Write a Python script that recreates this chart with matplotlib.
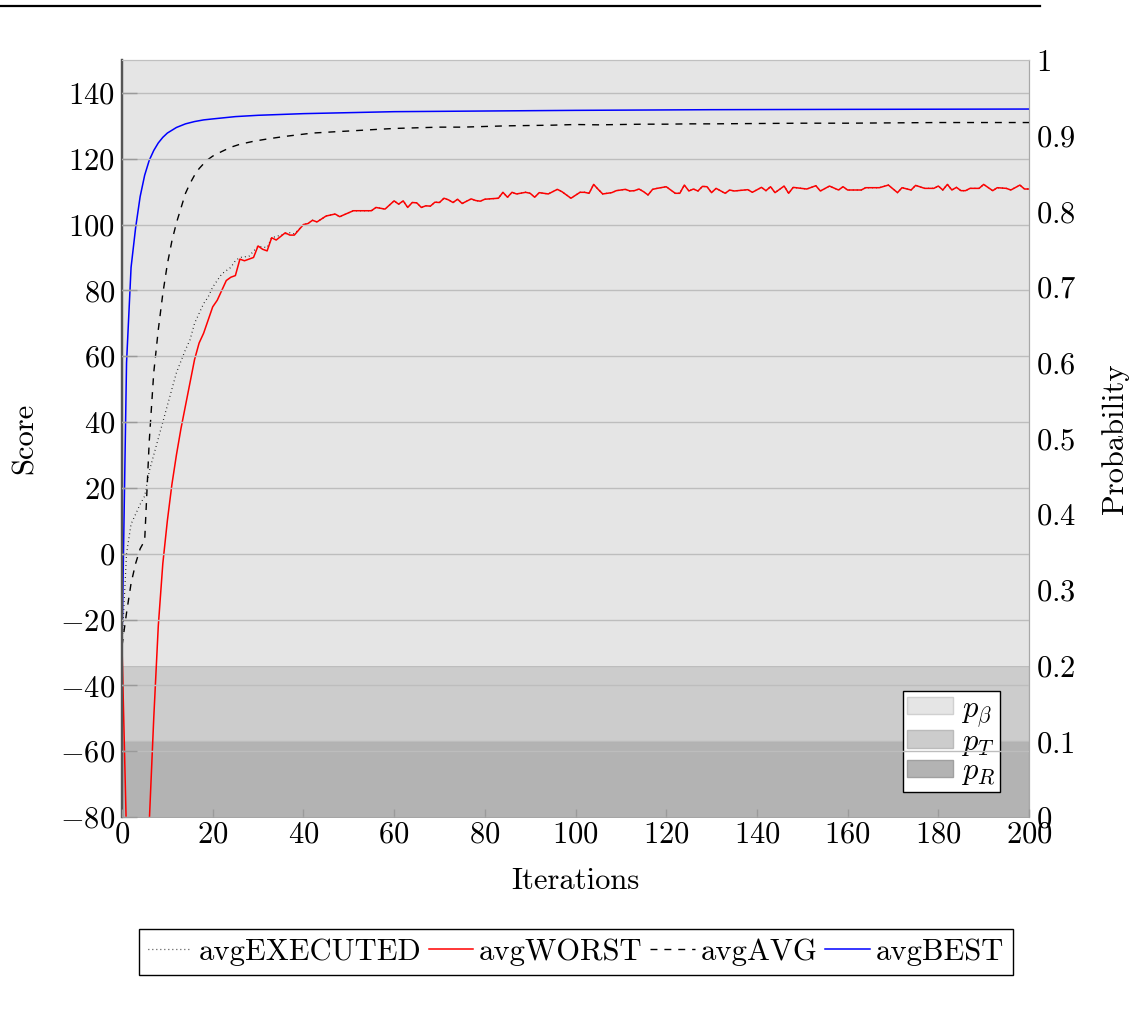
import matplotlib
matplotlib.use("Agg")
import matplotlib.pyplot as plt
from matplotlib.lines import Line2D
from matplotlib.patches import Patch
from matplotlib.ticker import FixedLocator, FuncFormatter

plt.rcParams["font.family"] = "serif"
plt.rcParams["font.serif"] = ["cmr10", "DejaVu Serif"]
plt.rcParams["mathtext.fontset"] = "cm"
plt.rcParams["axes.formatter.use_mathtext"] = True
plt.rcParams["axes.unicode_minus"] = True

# ---- data -------------------------------------------------------------
worst_it = [0, 1, 2, 3, 4, 5, 6, 7, 8, 9, 10, 11, 12, 13, 14, 15, 16, 17, 18, 19,
            20, 21, 22, 23, 24, 25, 26, 27, 29, 30, 31, 32, 33, 34, 36, 37, 38, 40,
            41, 42, 43, 45, 47, 48, 51, 53, 55, 56, 58, 60, 61, 62, 63, 64, 65, 66,
            67, 68, 69, 70, 71, 72, 73, 74, 75, 76, 77, 78, 79, 80, 83, 84, 85, 86,
            87, 89, 90, 91, 92, 94, 96, 97, 99, 101, 102, 103, 104, 105, 106, 108,
            109, 111, 112, 113, 114, 115, 116, 117, 118, 120, 121, 122, 123, 124,
            125, 126, 127, 128, 129, 130, 131, 133, 134, 135, 138, 139, 141, 142,
            143, 144, 146, 147, 148, 151, 153, 154, 156, 158, 159, 160, 163, 164,
            167, 169, 171, 172, 174, 175, 177, 179, 180, 181, 182, 183, 184, 185,
            186, 187, 189, 190, 192, 193, 195, 196, 198, 199, 200]
worst_val = [-28, -86, -130, -150, -140, -115, -82, -50, -22, -3, 10, 21, 30, 38, 45,
             52, 59, 64, 67, 71, 75, 77, 80, 83, 84, 84.5, 89.5, 89, 90, 93.5, 92.5,
             92, 96, 95.3, 97.5, 96.8, 96.8, 100, 100.3, 101.3, 100.8, 102.6, 103.2,
             102.4, 104.2, 104.2, 104.2, 105.2, 104.7, 107.2, 106.2, 107.2, 105.2,
             106.7, 106.6, 105.2, 105.7, 105.6, 106.8, 106.7, 108, 107.5, 106.7,
             107.7, 106.4, 107.1, 107.8, 107.3, 107.1, 107.7, 108, 109.8, 108.3,
             109.8, 109.3, 109.8, 109.5, 108.3, 109.7, 109.3, 110.7, 110, 108, 109.8,
             109.8, 109.5, 112.2, 110.7, 109.3, 109.7, 110.3, 110.7, 110.2, 110.3,
             110.8, 110, 109, 110.7, 111, 111.5, 110.5, 109.5, 109.5, 112, 110.2,
             110.8, 110.2, 111.6, 111.5, 109.7, 111, 109.5, 110.5, 110.2, 110.6,
             109.8, 111.3, 110.3, 111.5, 109.7, 111.7, 109.5, 111.3, 110.8, 111.8,
             110.2, 111.7, 110.5, 111.5, 110.5, 110.5, 111.2, 111.2, 112, 109.7,
             111.2, 110.5, 111.9, 111, 111, 111.7, 110.5, 112.2, 110.5, 111.3, 110.3,
             110.3, 111, 111, 112.2, 110.3, 111.2, 111, 110.5, 112, 110.8, 110.8]

# executed score during the warm-up phase; afterwards it runs with avgWORST
executed_head_it = [0, 1, 2, 3, 4, 5, 6, 7, 8, 9, 10, 11, 12, 13, 14, 15, 16, 17, 18,
                    19, 20, 21, 22, 23, 24, 25, 26, 28, 30, 32, 33, 35, 37, 38]
executed_head_val = [-28, 0, 9, 12, 15, 17.5, 25, 30, 35, 40, 45, 50, 55, 58.5, 62,
                     65, 70, 73, 76, 78, 81, 83, 85, 86, 87, 89, 90, 90.4, 93.4, 93,
                     96, 96.8, 97.5, 97.2]

avg_it = [0, 1, 2, 3, 4, 5, 6, 7, 8, 9, 10, 11, 12, 13, 14, 15, 16, 17, 18, 19, 20,
          22, 24, 26, 29, 32, 36, 39, 42, 47, 51, 56, 60, 65, 70, 75, 80, 85, 90, 95,
          100, 105, 110, 115, 120, 125, 130, 140, 150, 160, 170, 180, 190, 200]
avg_val = [-28, -18, -9, -3, 1.5, 4, 34, 55, 68, 79, 88, 95, 100.5, 105, 109.5,
           112.5, 115, 117, 118.5, 119.8, 120.8, 122.2, 123.5, 124.4, 125.3, 126,
           126.8, 127.3, 127.8, 128.2, 128.5, 128.9, 129.2, 129.4, 129.6, 129.6,
           129.8, 130, 130.1, 130.2, 130.4, 130.3, 130.4, 130.5, 130.5, 130.6, 130.6,
           130.7, 130.8, 130.8, 130.9, 131, 131, 131]

best_it = [0, 1, 2, 3, 4, 5, 6, 7, 8, 9, 10, 12, 14, 16, 18, 20, 25, 30, 40, 50, 60,
           80, 100, 130, 160, 200]
best_val = [-28, 58, 87, 99, 108.5, 115, 119.5, 122.5, 124.8, 126.5, 127.8, 129.5,
            130.6, 131.3, 131.8, 132.1, 132.8, 133.2, 133.7, 134, 134.3, 134.5, 134.7,
            134.9, 135, 135.1]

# stacked probabilities (constant over the run)
prob_it = [0, 200]
p_R = [0.1, 0.1]
p_T = [0.1, 0.1]
p_beta = [0.8, 0.8]

score_ticks = [-80, -60, -40, -20, 0, 20, 40, 60, 80, 100, 120, 140]
prob_ticks = [0, 0.1, 0.2, 0.3, 0.4, 0.5, 0.6, 0.7, 0.8, 0.9, 1]
iter_ticks = [0, 20, 40, 60, 80, 100, 120, 140, 160, 180, 200]

# ---- figure ------------------------------------------------------------
W, H = 1135, 1011
fig = plt.figure(figsize=(W / 100, H / 100), dpi=100)
ax = fig.add_axes([122 / W, 1 - 817 / H, (1029 - 122) / W, (817 - 60) / H])
ax2 = ax.twinx()
ax.set_zorder(ax2.get_zorder() + 1)
ax.patch.set_visible(False)

# probability bands
lo = [0, 0]
mid = [a + b for a, b in zip(p_R, p_T)]
top = [m + c for m, c in zip(mid, p_beta)]
ax2.fill_between(prob_it, lo, p_R, facecolor="#b3b3b3", edgecolor="#a6a6a6", lw=1.0)
ax2.fill_between(prob_it, p_R, mid, facecolor="#cccccc", edgecolor="#bdbdbd", lw=1.0)
ax2.fill_between(prob_it, mid, top, facecolor="#e5e5e5", edgecolor="#e5e5e5", lw=0)
ax2.set_ylim(0, 1)
ax2.set_xlim(0, 200)

# score curves
executed_it = executed_head_it + [i for i in worst_it if i > executed_head_it[-1]]
executed_val = executed_head_val + [v for i, v in zip(worst_it, worst_val)
                                    if i > executed_head_it[-1]]
ax.plot(executed_it, executed_val, color="black", lw=0.9, ls=(0, (0.6, 2.6)),
        label="avgEXECUTED")
ax.plot(worst_it, worst_val, color="#ff0000", lw=1.1, label="avgWORST")
ax.plot(avg_it, avg_val, color="black", lw=1.0, ls=(0, (5, 5)), label="avgAVG")
ax.plot(best_it, best_val, color="#0000ff", lw=1.1, label="avgBEST")

ax.set_xlim(0, 200)
ax.set_ylim(-80, 150)
ax.yaxis.set_major_locator(FixedLocator(score_ticks))
ax.xaxis.set_major_locator(FixedLocator(iter_ticks))
ax2.yaxis.set_major_locator(FixedLocator(prob_ticks))

fmt = FuncFormatter(lambda v, p: "$%g$" % v)
ax.yaxis.set_major_formatter(fmt)
ax.xaxis.set_major_formatter(fmt)
ax2.yaxis.set_major_formatter(fmt)

ax.grid(axis="y", color="#bdbdbd", lw=1.0)
ax.set_axisbelow(False)

fs = 22
ax.tick_params(axis="both", which="major", direction="in", length=6, width=1.0,
               color="#9a9a9a", labelsize=fs, pad=5)
ax.tick_params(axis="y", length=11)
ax.tick_params(axis="x", bottom=True, top=False, pad=3)
ax2.tick_params(axis="y", direction="in", length=0, labelsize=fs, pad=5)

for a in (ax, ax2):
    a.spines["top"].set_color("#c0c0c0")
    a.spines["right"].set_color("#a8a8a8")
    a.spines["bottom"].set_visible(False)
    a.spines["left"].set_color("#555555")
    a.spines["left"].set_linewidth(1.6)

ax.set_xlabel("Iterations", fontsize=fs, labelpad=14)
ax.set_ylabel("Score", fontsize=fs, labelpad=15)
ax2.set_ylabel("Probability", fontsize=fs, labelpad=18)

# band legend inside the axes
band_handles = [
    Patch(facecolor="#e5e5e5", edgecolor="#d0d0d0", label=r"$p_\beta$"),
    Patch(facecolor="#cccccc", edgecolor="#bbbbbb", label=r"$p_T$"),
    Patch(facecolor="#b3b3b3", edgecolor="#a0a0a0", label=r"$p_R$"),
]
leg_in = ax2.legend(handles=band_handles, loc="lower right",
                    bbox_to_anchor=(1000 / W, 1 - 792 / H), bbox_transform=fig.transFigure,
                    fontsize=fs, frameon=True, fancybox=False, edgecolor="black",
                    framealpha=1, handlelength=1.5, handleheight=0.5,
                    labelspacing=0.0, borderpad=0.15, handletextpad=0.25,
                    borderaxespad=0)
leg_in.get_frame().set_linewidth(1.0)

# series legend below the plot
handles, labels = ax.get_legend_handles_labels()
leg = fig.legend(handles, labels, loc="center", ncol=4,
                 bbox_to_anchor=(576 / W, 1 - 952 / H), fontsize=fs, frameon=True,
                 fancybox=False, edgecolor="black", framealpha=1,
                 handlelength=1.45, handletextpad=0.2, columnspacing=0.25,
                 borderpad=0.3)
leg.get_frame().set_linewidth(1.0)

# rule across the top of the page
fig.add_artist(Line2D([0, 1040 / W], [1 - 5.5 / H, 1 - 5.5 / H],
                      transform=fig.transFigure, color="black", lw=1.6))

fig.savefig("out.png", dpi=100)
